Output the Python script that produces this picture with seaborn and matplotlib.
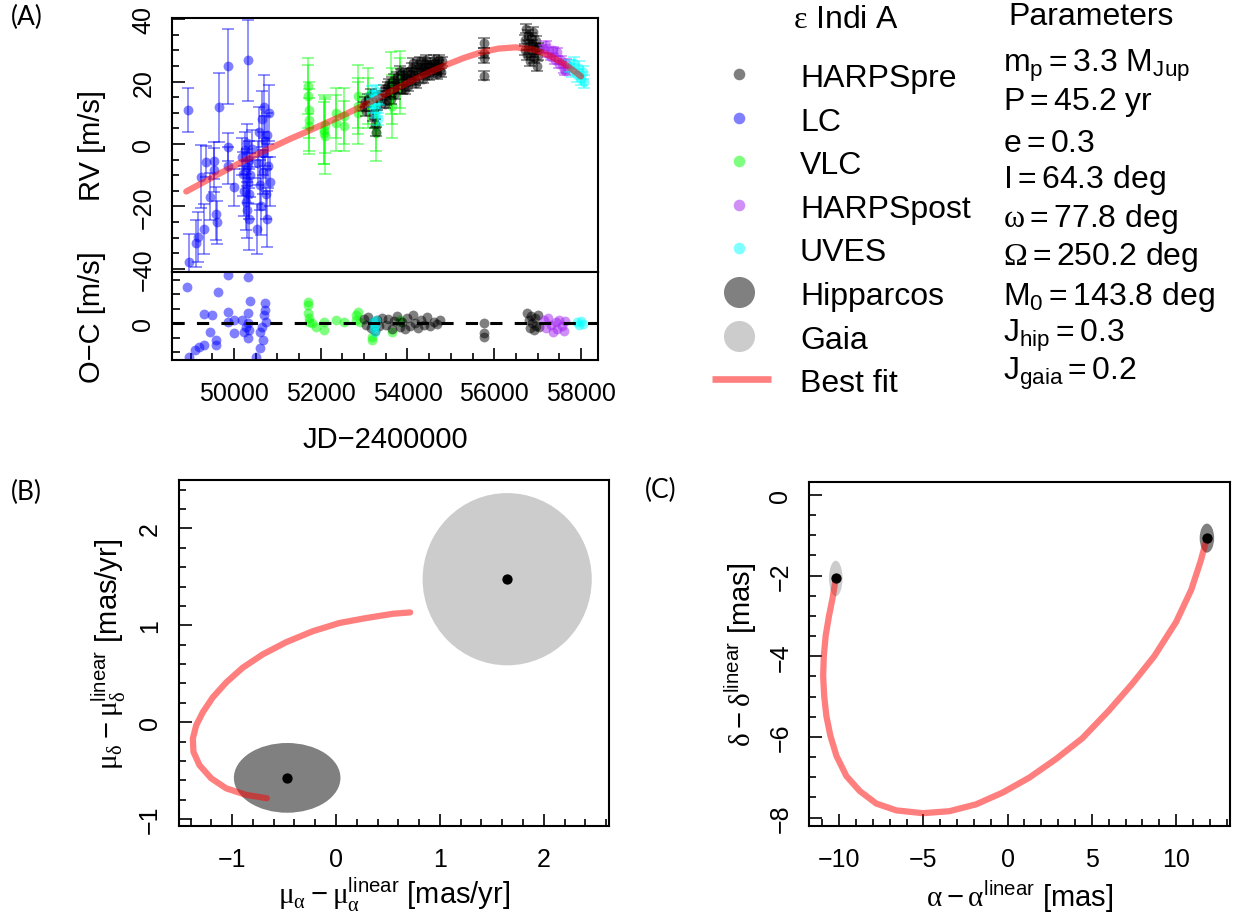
import matplotlib
matplotlib.use("Agg")
import numpy as np
import pandas as pd
import seaborn as sns
from matplotlib import pyplot as plt
from matplotlib.patches import Ellipse
from matplotlib.ticker import MultipleLocator, FuncFormatter

# ---------------- panel A: radial velocities (JD-2400000, RV [m/s], err [m/s]) ----------------
lc_t = [48933, 48970, 49124, 49177, 49309, 49240, 49348, 49447, 49546, 49546,
        49585, 49601, 49662, 49869, 49869, 49869, 50007, 50190, 50210, 50230,
        50250, 50270, 50290, 50300, 50310, 50320, 50330, 50335, 50340, 50350,
        50370, 50420, 50523, 50560, 50580, 50600, 50620, 50640, 50660, 50680,
        50700, 50710, 50730, 50750, 50770, 50790, 50810, 50830]
lc_rv = [11.0, -37.8, -31.8, -29.9, -27.2, -10.4, -5.6, -16.9, -5.3, -8.3,
         -22.4, -25.1, 11.8, 24.9, -0.9, -6.9, -13.9, -4.0, -9.5, -15.0,
         -2.0, -18.5, -7.5, -21.0, 0.5, -12.0, 26.9, -24.0, -5.0, -16.0,
         -10.0, -1.5, -27.2, -6.0, 4.0, -13.0, -20.0, 8.0, -3.0, -9.0,
         12.0, 1.0, -16.0, -24.0, 3.0, -7.0, 10.0, -12.0]
lc_err = [7, 9, 7.5, 8, 8, 10, 5, 7.5, 6, 7,
          8.5, 7, 11, 12, 4.5, 6, 6, 6, 7, 8,
          6, 9, 6, 9, 6, 7, 13, 10, 6, 8,
          7, 6, 8, 7, 8, 8, 9, 9, 7, 7,
          10, 8, 8, 9, 7, 7, 9, 8]

vlc_t = [51700, 51710, 51720, 51730, 51740, 52070, 52080, 52090, 52100, 52350,
         52360, 52530, 52545, 52850, 52860, 52870, 53080, 53090, 53270, 53280,
         53630, 53640, 53650, 53820, 53830]
vlc_rv = [18.5, 15.3, 11.0, 7.8, 5.7, 4.6, 3.5, 2.5, 6.0, 10.0,
          6.7, 5.7, 9.0, 15.3, 12.1, 10.0, 15.3, 13.2, 5.7, 3.5,
          19.6, 15.3, 12.1, 20.7, 18.5]
vlc_err = [9, 10, 9, 10, 9, 11, 10, 12, 9, 8,
           9, 8, 9, 10, 9, 10, 9, 8, 8, 9,
           10, 9, 10, 9, 9]

hpre_t = [52990, 53020, 53050, 53100, 53150, 53200, 53250, 53280, 53300, 53350,
          53420, 53450, 53480, 53500, 53530, 53550, 53580, 53600, 53620, 53650,
          53680, 53700, 53720, 53750, 53780, 53800, 53830, 53850, 53880, 53900,
          53920, 53950, 53980, 54000, 54020, 54050, 54080, 54100, 54130, 54150,
          54180, 54200, 54230, 54250, 54280, 54300, 54330, 54350, 54380, 54400,
          54430, 54450, 54480, 54500, 54530, 54550, 54580, 54600, 54630, 54650,
          54680, 54700, 54720, 54750, 54780, 54800, 55760, 55765, 55770, 55775,
          56700, 56720, 56740, 56760, 56780, 56800, 56820, 56840, 56860, 56880,
          56900, 56920, 56940, 56960, 56980, 57000, 57020]
hpre_rv = [12.0, 13.5, 10.5, 14.5, 16.0, 9.0, 6.5, 4.0, 12.5, 15.0,
           15.5, 17.5, 13.0, 14.0, 16.5, 18.5, 19.5, 16.5, 14.5, 20.0,
           21.0, 18.0, 16.0, 21.5, 18.0, 19.0, 23.5, 22.5, 17.5, 20.5,
           22.0, 17.5, 20.0, 23.0, 18.5, 21.0, 22.5, 24.5, 26.0, 22.0,
           20.5, 19.5, 23.0, 25.5, 26.5, 23.5, 24.0, 21.0, 22.5, 26.0,
           27.0, 24.0, 25.0, 22.0, 23.0, 25.0, 24.5, 27.0, 26.0, 23.5,
           22.5, 25.5, 27.0, 24.0, 23.0, 26.5, 32.4, 29.2, 27.6, 21.9,
           33.5, 30.0, 37.0, 28.5, 35.0, 31.5, 26.5, 34.0, 29.5, 32.0,
           36.0, 27.5, 30.5, 33.0, 25.0, 31.0, 28.5]
hpre_err = [1.5] * len(hpre_t)

hpost_t = [57150, 57200, 57250, 57300, 57350, 57400, 57450, 57500, 57550, 57600, 57620, 57650]
hpost_rv = [30.5, 31.9, 29.0, 28.0, 30.0, 27.0, 29.5, 25.5, 27.0, 24.0, 23.3, 26.0]
hpost_err = [1.2] * len(hpost_t)

uves_t = [53150, 53180, 53200, 53220, 53240, 53260, 53280, 53300, 53320, 53340,
          57750, 57800, 57850, 57900, 57950, 58000, 58050, 58080]
uves_rv = [14.0, 16.5, 12.0, 15.0, 10.5, 13.5, 17.0, 11.0, 8.0, 14.5,
           25.0, 23.5, 26.0, 22.0, 24.5, 21.0, 23.0, 20.0]
uves_err = [2.0] * len(uves_t)

# residuals (O-C)
lc_oc_t = [48907, 48953, 49091, 49183, 49302, 49320, 49458, 49504, 49577, 49577,
           49642, 49871, 49871, 49871, 50009, 50009, 50312, 50377, 50312, 50285,
           50312, 50193, 50239, 50331, 50349, 50716, 50698, 50652, 50680, 50606,
           50514, 50744, 50606, 50716]
lc_oc = [12.7, -11.5, -9.2, -8.3, -7.5, 3.1, -2.9, 2.9, -5.8, -7.5,
         11.0, 16.7, 4.0, 0.6, 1.2, -3.5, 16.2, 7.9, 3.5, -1.2,
         -5.2, 1.2, -2.9, 0.0, -2.3, 6.9, 2.9, -1.2, -5.8, -8.7,
         -11.5, 0.6, -2.9, 4.6]
vlc_oc_t = [51708, 51708, 51708, 51720, 51730, 51800, 51892, 52076, 52076, 52351,
            52535, 52811, 52811, 52857, 52903, 53178, 53178, 53637, 53821, 53830]
vlc_oc = [7.5, 6.4, 3.5, 1.7, 0.6, 0.0, -1.2, 0.6, -2.3, 1.2,
          0.6, 2.9, 1.2, 4.0, 0.6, -4.6, -5.8, -2.9, 1.2, 0.6]
hpre_oc_t = [53000, 53050, 53100, 53150, 53200, 53250, 53300, 53350, 53420, 53500,
             53560, 53640, 53700, 53760, 53820, 53880, 53950, 54000, 54060, 54120,
             54180, 54240, 54300, 54380, 54450, 54520, 54600, 54680, 54750, 55768,
             55770, 55772, 56760, 56790, 56820, 56850, 56880, 56910, 56940, 56970,
             57000, 57030]
hpre_oc = [1.5, -0.5, 2.3, -1.5, 0.5, -2.5, 1.0, -1.0, 2.0, -0.5,
           1.5, -1.8, 0.8, 2.5, -1.2, 0.3, -2.0, 1.8, -0.8, 2.8,
           0.0, -1.5, 1.2, -0.4, 2.2, -1.0, 0.5, -0.2, 1.0, 0.2,
           -3.2, -4.6, 3.5, 1.0, -1.5, 2.5, 0.0, -2.3, 1.8, -0.8,
           3.0, -1.2]
hpost_oc_t = [57150, 57200, 57250, 57300, 57350, 57420, 57450, 57500, 57560, 57600, 57620]
hpost_oc = [1.0, -1.5, 1.7, -0.5, -2.9, 0.5, -1.8, 1.2, -0.8, -2.5, 0.8]
uves_oc_t = [53200, 53220, 53240, 53260, 53280, 57900, 57950, 58000, 58050]
uves_oc = [0.5, -1.5, -2.9, -0.5, 1.0, 0.5, -0.5, 0.8, -0.2]

# best-fit RV curve
fit_t = [48900, 49300, 49700, 50100, 50500, 50900, 51300, 51700, 52100, 52500,
         52900, 53300, 53700, 54100, 54500, 54900, 55300, 55700, 56100, 56500,
         56900, 57300, 57700, 58000]
fit_rv = [-15.2, -12.2, -9.2, -6.3, -3.5, -0.9, 1.7, 4.1, 6.6, 9.1,
          11.8, 14.6, 17.5, 20.3, 23.0, 25.4, 27.6, 29.4, 30.6, 31.0,
          30.3, 28.2, 24.9, 21.7]

# ---------------- panel B: proper motion offsets [mas/yr] ----------------
pm_hip = [-0.47, -0.575]
pm_hip_radius = [0.513, 0.36]
pm_gaia = [1.648, 1.476]
pm_gaia_radius = [0.814, 0.889]
pm_fit_x = [-0.666, -0.864, -1.057, -1.201, -1.314, -1.372, -1.378, -1.346, -1.282, -1.186,
            -1.057, -0.897, -0.705, -0.479, -0.223, 0.034, 0.291, 0.547, 0.714]
pm_fit_y = [-0.785, -0.751, -0.683, -0.580, -0.444, -0.307, -0.171, -0.034, 0.102, 0.256,
            0.410, 0.563, 0.700, 0.826, 0.939, 1.024, 1.075, 1.119, 1.133]

# ---------------- panel C: position offsets [mas] ----------------
pos_hip = [11.83, -1.07]
pos_hip_radius = [0.43, 0.36]
pos_gaia = [-10.2, -2.07]
pos_gaia_radius = [0.40, 0.44]
pos_fit_x = [-10.2, -10.4, -10.6, -10.8, -10.91, -10.95, -10.89, -10.76, -10.52, -10.16,
             -9.57, -8.78, -7.80, -6.61, -5.03, -3.45, -1.87, -0.30, 1.28, 2.86,
             4.44, 6.0, 7.4, 8.7, 10.0, 10.9, 11.45, 11.83]
pos_fit_y = [-2.07, -2.58, -2.99, -3.49, -3.99, -4.48, -4.98, -5.48, -5.97, -6.47,
             -6.97, -7.34, -7.65, -7.82, -7.89, -7.84, -7.67, -7.38, -7.01, -6.55,
             -6.03, -5.35, -4.68, -4.0, -3.15, -2.35, -1.65, -1.07]

param_lines = [
    r"$\mathrm{m_p = 3.3\ M_{Jup}}$",
    r"$\mathrm{P = 45.2\ yr}$",
    r"$\mathrm{e = 0.3}$",
    r"$\mathrm{I = 64.3\ deg}$",
    r"$\mathsf{\omega} = \mathrm{77.8\ deg}$",
    r"$\mathsf{\Omega} = \mathrm{250.2\ deg}$",
    r"$\mathrm{M_0 = 143.8\ deg}$",
    r"$\mathrm{J_{hip} = 0.3}$",
    r"$\mathrm{J_{gaia} = 0.2}$",
]

sns.set_style("ticks")
plt.rcParams["font.family"] = ["Liberation Sans", "DejaVu Sans"]
plt.rcParams["mathtext.fontset"] = "custom"
plt.rcParams["mathtext.rm"] = "Liberation Sans"
plt.rcParams["mathtext.it"] = "Liberation Sans"
plt.rcParams["mathtext.sf"] = "Liberation Serif"
for key in ["text.color", "axes.labelcolor", "xtick.color", "ytick.color", "axes.edgecolor"]:
    plt.rcParams[key] = "black"

W, H = 1235, 920
fig = plt.figure(figsize=(W / 100, H / 100), dpi=100)


def box(left, top, right, bottom):
    return [left / W, 1 - bottom / H, (right - left) / W, (bottom - top) / H]


def style_axis(ax, xpad=15, ypad=12):
    for s in ax.spines.values():
        s.set_linewidth(1.5)
        s.set_color("black")
        s.set_visible(True)
    ax.tick_params(which="both", direction="in", width=1.2, labelsize=18,
                   top=False, right=False)
    ax.tick_params(which="major", length=9)
    ax.tick_params(which="minor", length=5)
    ax.tick_params(axis="x", which="both", pad=xpad)
    ax.tick_params(axis="y", which="both", pad=ypad, labelrotation=90)


ax_rv = fig.add_axes(box(172, 19, 598, 272.7))
ax_oc = fig.add_axes(box(172, 272.7, 598, 360.7))
ax_pm = fig.add_axes(box(178.6, 481, 609, 827.3))
ax_pos = fig.add_axes(box(809, 483.3, 1230, 826.7))

instruments = [
    ("LC", "#0000FF", lc_t, lc_rv, lc_err, lc_oc_t, lc_oc),
    ("VLC", "#00FF00", vlc_t, vlc_rv, vlc_err, vlc_oc_t, vlc_oc),
    ("HARPSpre", "#000000", hpre_t, hpre_rv, hpre_err, hpre_oc_t, hpre_oc),
    ("HARPSpost", "#A020F0", hpost_t, hpost_rv, hpost_err, hpost_oc_t, hpost_oc),
    ("UVES", "#00FFFF", uves_t, uves_rv, uves_err, uves_oc_t, uves_oc),
]

for name, col, t, rv, err, oc_t, oc in instruments:
    ax_rv.errorbar(t, rv, yerr=err, fmt="none", ecolor=col, alpha=0.5,
                   elinewidth=1.2, capsize=4.5, capthick=1.2)
    sns.scatterplot(x=t, y=rv, color=col, alpha=0.5, s=50, linewidth=0,
                    ax=ax_rv, legend=False)
    sns.scatterplot(x=oc_t, y=oc, color=col, alpha=0.5, s=50, linewidth=0,
                    ax=ax_oc, legend=False)

sns.lineplot(x=fit_t, y=fit_rv, color="red", alpha=0.5, lw=4.5, ax=ax_rv,
             estimator=None, legend=False, solid_capstyle="round",
             solid_joinstyle="round")
ax_oc.axhline(0, color="black", lw=2.2, ls=(0, (4, 4)))

ax_rv.set_xlim(48571, 58392)
ax_oc.set_xlim(48571, 58392)
ax_rv.set_ylim(-40.9, 40.4)
ax_oc.set_ylim(-12.6, 17.9)

style_axis(ax_rv)
style_axis(ax_oc)
ax_rv.tick_params(axis="x", which="both", bottom=False, labelbottom=False)
ax_rv.yaxis.set_major_locator(MultipleLocator(20))
ax_rv.yaxis.set_minor_locator(MultipleLocator(5))
ax_oc.yaxis.set_major_locator(MultipleLocator(5))
ax_oc.yaxis.set_major_formatter(FuncFormatter(lambda v, p: "0" if abs(v) < 1e-9 else ""))
ax_oc.tick_params(axis="y", which="major", length=6)
ax_oc.xaxis.set_major_locator(MultipleLocator(2000))
ax_oc.xaxis.set_minor_locator(MultipleLocator(500))

ax_rv.set_xlabel("")
ax_rv.set_ylabel("RV [m/s]", fontsize=21)
ax_rv.yaxis.set_label_coords(-0.155, 0.5)
ax_oc.set_ylabel("O\u2212C [m/s]", fontsize=21)
ax_oc.yaxis.set_label_coords(-0.155, 0.5)
ax_oc.set_xlabel("JD\u22122400000", fontsize=21, va="center")
ax_oc.xaxis.set_label_coords(0.5, -0.9)

# ---------------- panel B ----------------
ax_pm.add_patch(Ellipse(pm_gaia, 2 * pm_gaia_radius[0], 2 * pm_gaia_radius[1],
                        facecolor="#CCCCCC", edgecolor="none"))
ax_pm.add_patch(Ellipse(pm_hip, 2 * pm_hip_radius[0], 2 * pm_hip_radius[1],
                        facecolor="#808080", edgecolor="none"))
sns.lineplot(x=pm_fit_x, y=pm_fit_y, sort=False, estimator=None, color="red",
             alpha=0.5, lw=4.5, ax=ax_pm, legend=False, solid_capstyle="round",
             solid_joinstyle="round")
sns.scatterplot(x=[pm_hip[0], pm_gaia[0]], y=[pm_hip[1], pm_gaia[1]],
                color="black", s=55, linewidth=0, ax=ax_pm, legend=False, zorder=5)
ax_pm.set_xlim(-1.515, 2.628)
ax_pm.set_ylim(-1.075, 2.5)
style_axis(ax_pm)
ax_pm.xaxis.set_major_locator(MultipleLocator(1))
ax_pm.xaxis.set_minor_locator(MultipleLocator(0.2))
ax_pm.yaxis.set_major_locator(MultipleLocator(1))
ax_pm.yaxis.set_minor_locator(MultipleLocator(0.2))
ax_pm.set_xlabel(r"$\mathsf{\mu}_{\mathsf{\alpha}} - \mathsf{\mu}_{\mathsf{\alpha}}^{\mathrm{linear}}\ \mathrm{[mas/yr]}$",
                 fontsize=21, va="center")
ax_pm.xaxis.set_label_coords(0.5, -0.195)
ax_pm.set_ylabel(r"$\mathsf{\mu}_{\mathsf{\delta}} - \mathsf{\mu}_{\mathsf{\delta}}^{\mathrm{linear}}\ \mathrm{[mas/yr]}$",
                 fontsize=21, va="center")
ax_pm.yaxis.set_label_coords(-0.162, 0.5)

# ---------------- panel C ----------------
ax_pos.add_patch(Ellipse(pos_gaia, 2 * pos_gaia_radius[0], 2 * pos_gaia_radius[1],
                         facecolor="#CCCCCC", edgecolor="none"))
ax_pos.add_patch(Ellipse(pos_hip, 2 * pos_hip_radius[0], 2 * pos_hip_radius[1],
                         facecolor="#808080", edgecolor="none"))
sns.lineplot(x=pos_fit_x, y=pos_fit_y, sort=False, estimator=None, color="red",
             alpha=0.5, lw=4.5, ax=ax_pos, legend=False, solid_capstyle="round",
             solid_joinstyle="round")
sns.scatterplot(x=[pos_hip[0], pos_gaia[0]], y=[pos_hip[1], pos_gaia[1]],
                color="black", s=55, linewidth=0, ax=ax_pos, legend=False, zorder=5)
ax_pos.set_xlim(-11.79, 13.2)
ax_pos.set_ylim(-8.2, 0.314)
style_axis(ax_pos)
ax_pos.xaxis.set_major_locator(MultipleLocator(5))
ax_pos.xaxis.set_minor_locator(MultipleLocator(1))
ax_pos.yaxis.set_major_locator(MultipleLocator(2))
ax_pos.yaxis.set_minor_locator(MultipleLocator(0.5))
ax_pos.set_xlabel(r"$\mathsf{\alpha} - \mathsf{\alpha}^{\mathrm{linear}}\ \mathrm{[mas]}$",
                  fontsize=21, va="center")
ax_pos.xaxis.set_label_coords(0.5, -0.204)
ax_pos.set_ylabel(r"$\mathsf{\delta} - \mathsf{\delta}^{\mathrm{linear}}\ \mathrm{[mas]}$",
                  fontsize=21, va="center")
ax_pos.yaxis.set_label_coords(-0.162, 0.5)

for ax in [ax_rv, ax_oc, ax_pm, ax_pos]:
    for lab in ax.get_yticklabels():
        lab.set_va("center")

# ---------------- legend and parameter list (pixel overlay) ----------------
lax = fig.add_axes([0, 0, 1, 1], zorder=-1)
lax.set_xlim(0, W)
lax.set_ylim(H, 0)
lax.axis("off")

legend_names = ["HARPSpre", "LC", "VLC", "HARPSpost", "UVES", "Hipparcos", "Gaia", "Best fit"]
legend_colors = ["#000000", "#0000FF", "#00FF00", "#A020F0", "#00FFFF"]
row0, step = 75, 43.6
for i, name in enumerate(legend_names):
    yy = row0 + step * i
    if i < 5:
        lax.scatter([739], [yy], s=70, color=legend_colors[i], alpha=0.5, linewidths=0)
    elif name == "Hipparcos":
        lax.scatter([739], [yy], s=500, color="#808080", linewidths=0)
    elif name == "Gaia":
        lax.scatter([739], [yy], s=500, color="#CCCCCC", linewidths=0)
    else:
        lax.plot([712, 771], [yy, yy], color="red", alpha=0.5, lw=4.8, solid_capstyle="butt")
    lax.text(800, yy + 12, name, fontsize=23, va="baseline", ha="left")

lax.text(846, 28, r"$\mathsf{\epsilon}$ Indi A", fontsize=23, ha="center", va="baseline")
lax.text(1091, 25, "Parameters", fontsize=23, ha="center", va="baseline")
param_base = [72, 110, 152, 188, 227, 265, 305, 342, 380]
for txt, yb in zip(param_lines, param_base):
    lax.text(1003, yb, txt, fontsize=23, ha="left", va="baseline")

for lbl, (px, py) in zip(["(A)", "(B)", "(C)"], [(27, 17), (26, 492), (661, 490)]):
    lax.text(px, py, lbl, fontsize=19, family=["Lato", "DejaVu Sans"], ha="center", va="center")

fig.savefig("out.png", dpi=100)
